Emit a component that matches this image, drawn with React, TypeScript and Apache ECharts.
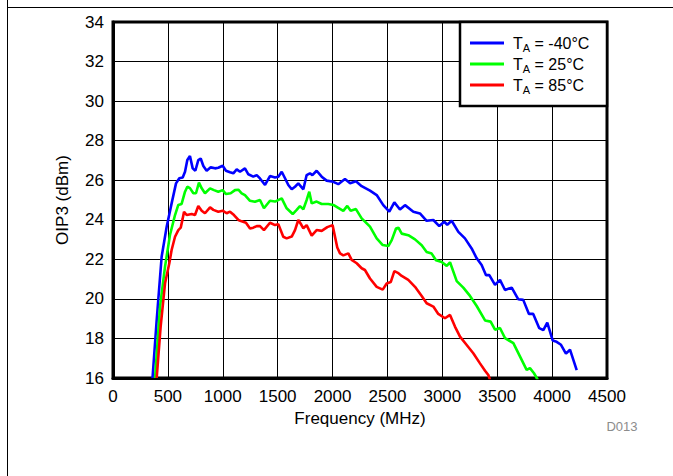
import React, { useEffect, useRef } from "react";
import * as echarts from "echarts";

const seriesNames = ["TA = -40°C", "TA = 25°C", "TA = 85°C"];
const legendTemps = ["-40°C", "25°C", "85°C"];
const seriesColors = ["#0000FF", "#00FF00", "#FF0000"];
const xTickValues = [0, 500, 1000, 1500, 2000, 2500, 3000, 3500, 4000, 4500];
const yTickValues = [16, 18, 20, 22, 24, 26, 28, 30, 32, 34];
const xAxisTitle = "Frequency (MHz)";
const yAxisTitle = "OIP3 (dBm)";
const figureId = "D013";

const bluePoints: [number, number][] = [
  [360, 16.0], [398, 18.93], [443, 22.13], [489, 23.65], [534, 24.83], [574, 25.84], [604, 26.1],
  [635, 26.14], [656, 26.43], [677, 27.02], [701, 27.22], [726, 26.6], [750, 26.48], [777, 27.02],
  [799, 27.1], [823, 26.72], [853, 26.48], [890, 26.65], [929, 26.6], [959, 26.63], [999, 26.73],
  [1029, 26.48], [1066, 26.4], [1096, 26.35], [1127, 26.55], [1157, 26.43], [1202, 26.6], [1233, 26.3],
  [1278, 26.18], [1309, 26.26], [1339, 26.09], [1385, 25.76], [1430, 26.21], [1476, 26.14], [1506, 26.18],
  [1537, 26.43], [1567, 26.1], [1597, 25.76], [1628, 25.54], [1658, 25.67], [1688, 25.84], [1734, 25.54],
  [1764, 26.26], [1794, 26.35], [1816, 26.26], [1855, 26.48], [1901, 26.18], [1946, 25.98], [2007, 25.92],
  [2052, 25.8], [2113, 26.06], [2160, 25.85], [2213, 25.95], [2265, 25.7], [2341, 25.47], [2402, 25.25],
  [2462, 24.74], [2517, 24.41], [2563, 24.88], [2614, 24.52], [2660, 24.74], [2736, 24.41], [2796, 24.32],
  [2857, 23.95], [2918, 23.99], [2972, 23.68], [3018, 23.9], [3045, 23.75], [3085, 23.95], [3146, 23.39],
  [3206, 23.06], [3267, 22.55], [3313, 22.05], [3358, 21.71], [3398, 21.2], [3428, 21.2], [3480, 20.71],
  [3525, 20.96], [3571, 20.45], [3632, 20.57], [3692, 19.98], [3737, 19.95], [3789, 19.24], [3828, 19.24],
  [3883, 18.52], [3920, 18.42], [3956, 18.8], [4005, 17.9], [4041, 17.83], [4081, 17.68], [4126, 17.23],
  [4163, 17.43], [4224, 16.4],
];

const greenPoints: [number, number][] = [
  [383, 16.0], [428, 19.6], [474, 21.63], [519, 23.23], [565, 24.24], [595, 24.75], [625, 24.8],
  [656, 25.42], [677, 25.67], [701, 25.6], [732, 25.34], [756, 25.34], [783, 25.88], [808, 25.59],
  [838, 25.34], [884, 25.59], [920, 25.5], [959, 25.42], [999, 25.5], [1029, 25.3], [1072, 25.34],
  [1111, 25.5], [1142, 25.52], [1172, 25.34], [1202, 25.25], [1248, 24.96], [1293, 24.91], [1339, 25.0],
  [1375, 24.58], [1430, 24.96], [1476, 24.92], [1537, 25.08], [1582, 24.58], [1637, 24.29], [1673, 24.5],
  [1703, 24.69], [1734, 24.53], [1764, 25.0], [1788, 25.42], [1810, 24.83], [1855, 24.92], [1901, 24.8],
  [1961, 24.8], [2007, 24.75], [2052, 24.6], [2098, 24.45], [2134, 24.7], [2165, 24.46], [2213, 24.54],
  [2265, 24.07], [2341, 23.65], [2402, 23.06], [2457, 22.72], [2508, 22.67], [2539, 22.97], [2578, 23.56],
  [2600, 23.6], [2630, 23.3], [2690, 23.22], [2751, 23.01], [2812, 22.71], [2857, 22.37], [2903, 22.29],
  [2942, 21.95], [2994, 21.87], [3040, 21.67], [3070, 21.85], [3131, 20.9], [3191, 20.57], [3252, 20.15],
  [3313, 19.64], [3389, 18.91], [3440, 18.85], [3480, 18.44], [3525, 18.53], [3571, 18.02], [3647, 17.76],
  [3707, 17.09], [3768, 16.41], [3798, 16.5], [3835, 16.24], [3870, 15.9],
];

const redPoints: [number, number][] = [
  [398, 16.0], [434, 18.6], [474, 20.79], [513, 21.8], [534, 22.47], [565, 23.14], [595, 23.48],
  [617, 23.6], [635, 24.07], [647, 24.4], [671, 24.24], [717, 24.29], [747, 24.24], [777, 24.7],
  [808, 24.46], [838, 24.33], [884, 24.63], [914, 24.5], [959, 24.41], [999, 24.46], [1035, 24.33],
  [1066, 24.41], [1102, 24.24], [1142, 23.99], [1172, 23.92], [1211, 23.85], [1248, 23.56], [1278, 23.6],
  [1309, 23.68], [1339, 23.68], [1375, 23.48], [1430, 23.85], [1476, 23.73], [1506, 23.78], [1551, 23.14],
  [1582, 23.06], [1628, 23.15], [1658, 23.48], [1688, 23.99], [1710, 23.8], [1734, 23.57], [1764, 23.73],
  [1810, 23.2], [1855, 23.48], [1901, 23.44], [1952, 23.63], [2000, 23.73], [2043, 22.6], [2068, 22.3],
  [2098, 22.2], [2144, 22.3], [2174, 21.97], [2220, 21.8], [2265, 21.55], [2295, 21.46], [2341, 21.03],
  [2402, 20.61], [2457, 20.47], [2493, 20.78], [2530, 20.85], [2563, 21.4], [2600, 21.3], [2630, 21.16],
  [2690, 20.96], [2751, 20.61], [2812, 20.15], [2857, 19.78], [2918, 19.61], [2963, 19.24], [3024, 19.02],
  [3070, 19.19], [3115, 18.6], [3161, 18.09], [3222, 17.67], [3282, 17.25], [3343, 16.74], [3389, 16.37],
  [3419, 16.15], [3435, 15.9],
];

const allSeries = [bluePoints, greenPoints, redPoints];

const FONT = "'Liberation Sans', Arial, Helvetica, sans-serif";

export default function App() {
  const ref = useRef<HTMLDivElement>(null);

  useEffect(() => {
    if (!ref.current) return;
    const chart = echarts.init(ref.current, undefined, { renderer: "svg" });
    const xMin = xTickValues[0];
    const xMax = xTickValues[xTickValues.length - 1];
    const yMin = yTickValues[0];
    const yMax = yTickValues[yTickValues.length - 1];

    chart.setOption({
      animation: false,
      backgroundColor: "#ffffff",
      grid: {
        left: 113,
        top: 22,
        width: 494,
        height: 356,
        show: true,
        borderColor: "#000",
        borderWidth: 3,
        backgroundColor: "transparent",
        containLabel: false,
      },
      xAxis: {
        type: "value",
        min: xMin,
        max: xMax,
        interval: xTickValues[1] - xTickValues[0],
        name: xAxisTitle,
        nameLocation: "middle",
        nameGap: 31,
        nameTextStyle: { fontFamily: FONT, fontSize: 17, color: "#000" },
        axisLine: { show: true, lineStyle: { color: "#000", width: 3 } },
        axisTick: { show: false },
        axisLabel: {
          fontFamily: FONT,
          fontSize: 17,
          color: "#000",
          margin: 10,
          formatter: (v: number) => String(v),
        },
        splitLine: { show: true, lineStyle: { color: "#000", width: 1 } },
      },
      yAxis: {
        type: "value",
        min: yMin,
        max: yMax,
        interval: yTickValues[1] - yTickValues[0],
        name: yAxisTitle,
        nameLocation: "middle",
        nameGap: 42,
        nameRotate: 90,
        nameTextStyle: { fontFamily: FONT, fontSize: 17, color: "#000" },
        axisLine: { show: true, lineStyle: { color: "#000", width: 3 } },
        axisTick: { show: false },
        axisLabel: {
          fontFamily: FONT,
          fontSize: 17,
          color: "#000",
          margin: 9,
          formatter: (v: number) => String(v),
        },
        splitLine: { show: true, lineStyle: { color: "#000", width: 1 } },
      },
      legend: {
        orient: "vertical",
        left: 470,
        top: 33,
        padding: 0,
        itemGap: 1,
        itemWidth: 34,
        itemHeight: 3,
        icon: "rect",
        data: seriesNames,
        formatter: (name: string) => {
          const i = seriesNames.indexOf(name);
          return `{t|T}{s|A}{t| = ${legendTemps[i]}}`;
        },
        textStyle: {
          fontFamily: FONT,
          fontSize: 16,
          color: "#000",
          padding: [0, 0, 0, 4],
          rich: {
            t: { fontFamily: FONT, fontSize: 16, color: "#000", lineHeight: 20 },
            s: { fontFamily: FONT, fontSize: 11, color: "#000", lineHeight: 11, padding: [9, 0, 0, 0] },
          },
        },
        z: 10,
      },
      graphic: [
        {
          type: "rect",
          z: 5,
          shape: { x: 460, y: 22, width: 147, height: 84 },
          style: { fill: "#fff", stroke: "#000", lineWidth: 2.5 },
        },
        {
          type: "line",
          z: 5,
          shape: { x1: 7.5, y1: 0, x2: 7.5, y2: 476 },
          style: { stroke: "#000", lineWidth: 1 },
        },
        {
          type: "line",
          z: 5,
          shape: { x1: 7, y1: 7.5, x2: 673, y2: 7.5 },
          style: { stroke: "#000", lineWidth: 1 },
        },
        {
          type: "text",
          z: 5,
          x: 622,
          y: 426,
          style: {
            text: figureId,
            fontFamily: FONT,
            fontSize: 13,
            fill: "#8c8c8c",
            align: "center",
            verticalAlign: "middle",
          },
        },
      ],
      series: allSeries.map((pts, i) => ({
        name: seriesNames[i],
        type: "line",
        data: pts,
        symbol: "none",
        showSymbol: false,
        clip: true,
        z: 3,
        lineStyle: { color: seriesColors[i], width: 2.6 },
        itemStyle: { color: seriesColors[i] },
      })),
    });

    return () => {
      chart.dispose();
    };
  }, []);

  return (
    <div
      ref={ref}
      style={{ position: "absolute", left: 0, top: 0, width: 673, height: 476, background: "#fff" }}
    />
  );
}
